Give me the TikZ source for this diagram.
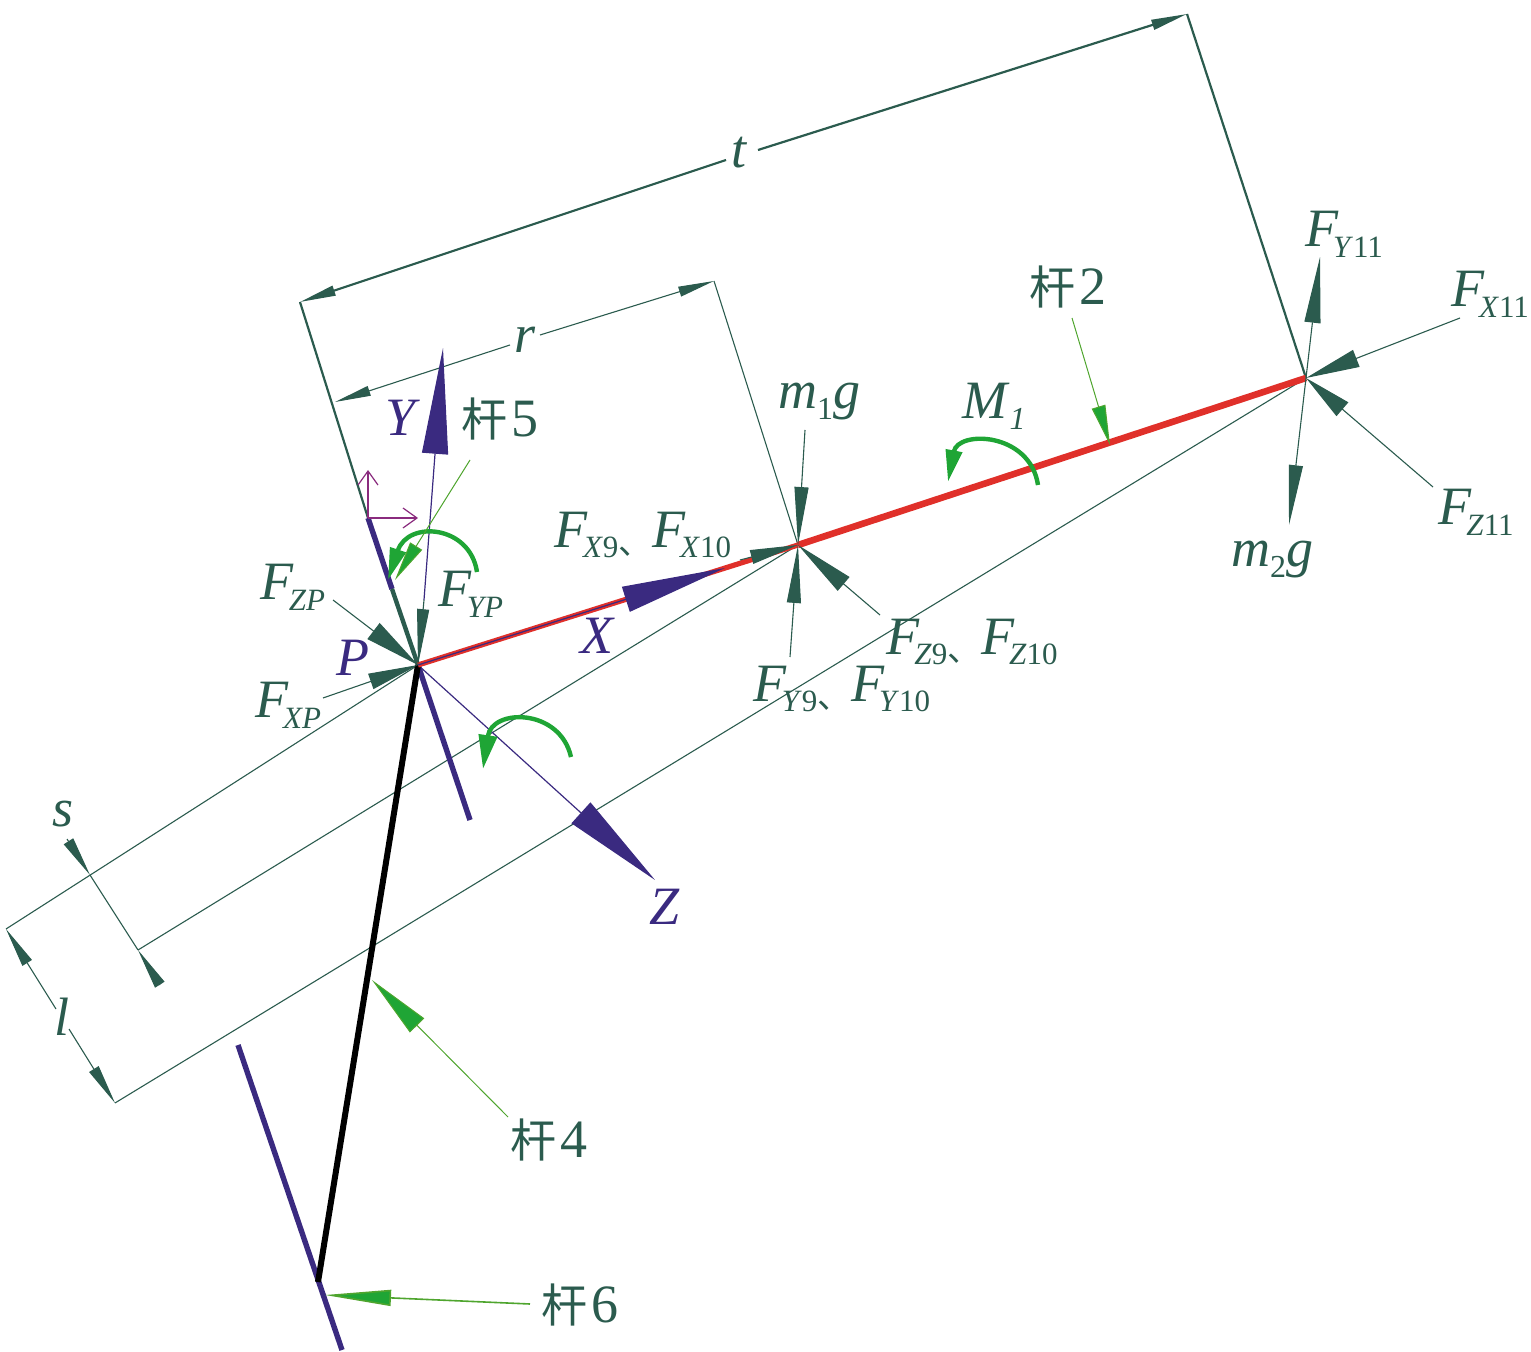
\documentclass[tikz,border=0pt]{standalone}
\usepackage{fontspec}
\setmainfont{Liberation Serif}
\newfontfamily\cjk{Noto Sans CJK SC}
\usetikzlibrary{arrows.meta}
\definecolor{dimgreen}{HTML}{2B5B4E}
\definecolor{axisblue}{HTML}{3A2A80}
\definecolor{rodred}{HTML}{E0302A}
\definecolor{momgreen}{HTML}{1FA535}
\definecolor{leadgreen}{HTML}{4FA52E}
\definecolor{purp}{HTML}{8A2B7E}
\newcommand{\Fs}[2]{\textit{F}\kern-.1em\raisebox{-.2em}{\fontsize{15.5}{16}\selectfont\textit{#1}#2}}
\newcommand{\dun}{\raisebox{-.14em}{\cjk\fontsize{16.8}{17}\selectfont 、}}
\newcommand{\gan}[1]{{\cjk\fontsize{23}{23}\selectfont 杆}\hspace{.06em}#1}
\tikzset{
  lab/.style={text=dimgreen,font=\fontsize{27}{27}\selectfont,inner sep=0pt},
  axlab/.style={text=axisblue,font=\fontsize{27}{27}\selectfont\itshape,inner sep=0pt},
  thin line/.style={draw=dimgreen,line width=.55pt},
  ext line/.style={draw=dimgreen,line width=1.1pt},
  head/.style n args={2}{-{Triangle[length=#1,width=#2]}},
  rod/.style={line width=2.7pt,line cap=butt},
  mom/.style={draw=momgreen,line width=2.2pt},
  lead/.style={draw=leadgreen,line width=.5pt}
}
\begin{document}
\begin{tikzpicture}[x=.5pt,y=-.5pt]
\useasboundingbox (0,0) rectangle (1531,1352);
\coordinate(P) at (418,665);
\coordinate(B) at (798,545);
\coordinate(C) at (1306,378);
\coordinate(tL) at (300,302);
\coordinate(tR) at (1187,14);
\coordinate(rL) at (335,402);
\coordinate(rR) at (714,281);
\coordinate(sA) at (90,875);
\coordinate(sB) at (138,950);
\coordinate(lA) at (6,929);
\coordinate(lB) at (115,1103);
\coordinate(rod5a) at (368,518);
\coordinate(rod5b) at (392,589);
\coordinate(rod5c) at (470,820);
\coordinate(rod4) at (318,1282);
\coordinate(rod6a) at (238,1045);
\coordinate(rod6b) at (342,1350);
\coordinate(Ytip) at (443,348);
\coordinate(Ybase) at (424,600);
\coordinate(Ztip) at (655,880);
\coordinate(Xtip) at (725,568);
%
\node[lab](t) at (740,153) {\textit{t}};
\node[lab](r) at (525,340) {\textit{r}};
\node[lab](s) at (63,814) {\textit{s}};
\node[lab](l) at (62,1017) {\textit{l}};
\node[lab](mg1) at (819,402) {\textit{m}\raisebox{-.2em}{\fontsize{16}{16}\selectfont 1}\textit{g}};
\node[lab](mg2) at (1272,560) {\textit{m}\raisebox{-.2em}{\fontsize{16}{16}\selectfont 2}\textit{g}};
\node[lab](M1) at (994,406) {\textit{M}\raisebox{-.2em}{\fontsize{16}{16}\selectfont\textit{1}}};
\node[lab](FZP) at (293,587) {\Fs{ZP}{}};
\node[lab](FYP) at (471,594) {\Fs{YP}{}};
\node[lab](FXP) at (288,705) {\Fs{XP}{}};
\node[lab](FX9) at (643,535) {\Fs{X}{9}\dun\Fs{X}{10}};
\node[lab](FZ9) at (972,642) {\Fs{Z}{9}\dun\Fs{Z}{10}};
\node[lab](FY9) at (842,689) {\Fs{Y}{9}\dun\Fs{Y}{10}};
\node[lab](FY11) at (1344,234) {\Fs{Y}{11}};
\node[lab](FX11) at (1490,294) {\Fs{X}{11}};
\node[lab](FZ11) at (1476,512) {\Fs{Z}{11}};
\node[axlab](Plab) at (353,658) {P};
\node[axlab](Xlab) at (597,636) {X};
\node[axlab](Ylab) at (401,418) {Y};
\node[axlab](Zlab) at (665,907) {Z};
\node[lab](g2) at (1068,287) {\gan{2}};
\node[lab](g4) at (549,1140) {\gan{4}};
\node[lab](g5) at (500,419) {\gan{5}};
\node[lab](g6) at (580,1305) {\gan{6}};
%
% long reference lines
\draw[thin line](lA) -- (P);
\draw[thin line](sB) -- (B);
\draw[thin line](lB) -- (C);
\draw[ext line](tL) -- (rod5a) -- (P);
\draw[ext line](tR) -- (C);
\draw[thin line](rR) -- (B);
%
% dimensions
\coordinate(tm1) at (726,160);
\coordinate(tm2) at (758,150);
\draw[ext line,head={18pt}{5pt}](tm1) -- (tL);
\draw[ext line,head={18pt}{5pt}](tm2) -- (tR);
\coordinate(rm1) at (510,345);
\coordinate(rm2) at (540,335);
\draw[thin line,head={18pt}{5pt}](rm1) -- (rL);
\draw[thin line,head={18pt}{5pt}](rm2) -- (rR);
\coordinate(s0) at (67,839);
\coordinate(s3) at (160,985);
\draw[thin line,head={20pt}{5.5pt}](s0) -- (sA);
\draw[thin line](sA) -- (sB);
\draw[thin line,head={20.5pt}{5.5pt}](s3) -- (sB);
\coordinate(lm1) at (56,1009);
\coordinate(lm2) at (69,1029);
\draw[thin line,head={20pt}{5.5pt}](lm1) -- (lA);
\draw[thin line,head={20pt}{5.5pt}](lm2) -- (lB);
%
% axes
\draw[draw=axisblue,line width=.6pt,-{Triangle[length=53pt,width=13pt,fill=axisblue]}](Ybase) -- (Ytip);
\draw[draw=axisblue,line width=.6pt,-{Triangle[length=50pt,width=14pt,fill=axisblue]}](P) -- (Ztip);
%
% rods
\draw[rod,draw=axisblue](rod5a) -- (rod5b);
\draw[rod,draw=dimgreen,line width=2.2pt](rod5b) -- (P);
\draw[rod,draw=axisblue](P) -- (rod5c);
\draw[rod,draw=axisblue](rod6a) -- (rod6b);
\draw[rod,draw=black,line width=3pt](P) -- (rod4);
\draw[line width=2.6pt,draw=rodred](P) -- (B);
\draw[line width=3.3pt,draw=rodred](B) -- (C);
\draw[draw=axisblue,line width=.6pt,-{Triangle[length=52pt,width=13pt,fill=axisblue]}](P) -- (Xtip);
%
% force arrows
\coordinate(aYP) at (424,600);
\coordinate(aZP) at (333,600);
\coordinate(aXP) at (323,698);
\coordinate(am1) at (805,430);
\coordinate(aY9) at (790,657);
\coordinate(aZ9) at (880,615);
\coordinate(aX9) at (740,560);
\coordinate(aY11) at (1320,257);
\coordinate(am2) at (1289,525);
\coordinate(aX11) at (1460,318);
\coordinate(aZ11) at (1433,487);
\draw[thin line,head={28pt}{6pt}](aYP) -- (P);
\draw[thin line,head={28pt}{10pt}](aZP) -- (P);
\draw[thin line,head={25pt}{8pt}](aXP) -- (P);
\draw[thin line,head={29pt}{7pt}](am1) -- (B);
\draw[thin line,head={29pt}{7pt}](aY9) -- (B);
\draw[thin line,head={30pt}{9pt}](aZ9) -- (B);
\draw[thin line,head={24pt}{7pt}](aX9) -- (B);
\draw[thin line,head={33pt}{8pt}](C) -- (aY11);
\draw[thin line,head={30pt}{7pt}](C) -- (am2);
\draw[thin line,head={27pt}{9pt}](aX11) -- (C);
\draw[thin line,head={24pt}{9pt}](aZ11) -- (C);
%
% moments
\coordinate(m5a) at (477,572);
\coordinate(m5b) at (388,580);
\coordinate(m4a) at (571,757);
\coordinate(m4b) at (483,769);
\coordinate(m1a) at (1038,485);
\coordinate(m1b) at (948,482);
\draw[mom,-{Triangle[length=16pt,width=8pt]}](m5a) .. controls (470,525) and (408,520) .. (m5b);
\draw[mom,-{Triangle[length=17pt,width=9pt]}](m4a) .. controls (560,708) and (492,708) .. (m4b);
\draw[mom,-{Triangle[length=16pt,width=8pt]}](m1a) .. controls (1030,432) and (958,430) .. (m1b);
%
% leaders
\coordinate(l2a) at (1072,318);
\coordinate(l2b) at (1110,445);
\coordinate(l4a) at (508,1117);
\coordinate(l4b) at (372,980);
\coordinate(l5a) at (470,460);
\coordinate(l5b) at (395,580);
\coordinate(l6a) at (530,1304);
\coordinate(l6b) at (325,1295);
\draw[lead,-{Triangle[length=20pt,width=7pt,fill=momgreen]}](l2a) -- (l2b);
\draw[lead,-{Triangle[length=32pt,width=10pt,fill=momgreen]}](l4a) -- (l4b);
\draw[lead,-{Triangle[length=20pt,width=7pt,fill=momgreen]}](l5a) -- (l5b);
\draw[lead,line width=.8pt,-{Triangle[length=33pt,width=8pt,fill=momgreen]}](l6a) -- (l6b);
%
% small frame at rod 5
\coordinate(fO) at (368,518);
\coordinate(fY) at (368,470);
\coordinate(fX) at (418,518);
\draw[draw=purp,line width=.6pt,-{Straight Barb[length=7pt,width=10pt]}](fO) -- (fY);
\draw[draw=purp,line width=.6pt,-{Straight Barb[length=7pt,width=10pt]}](fO) -- (fX);
\end{tikzpicture}
\end{document}
